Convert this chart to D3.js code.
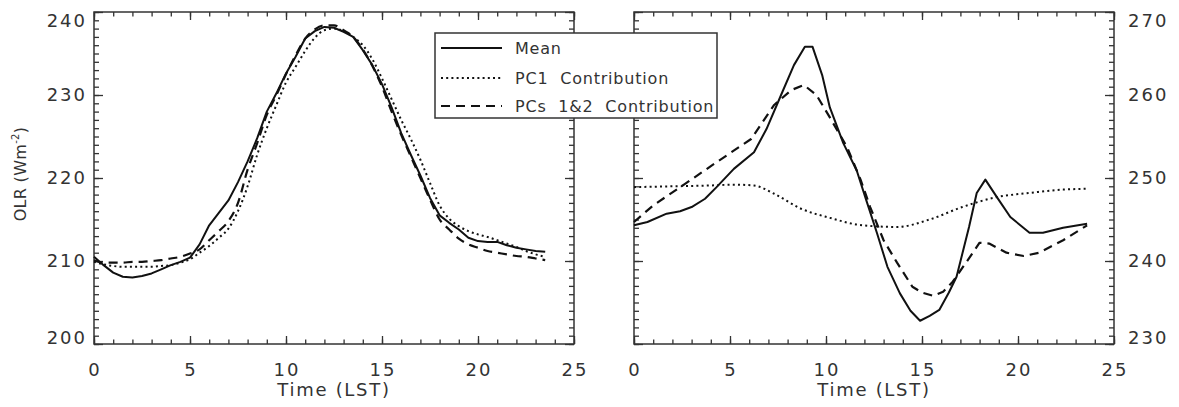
<!DOCTYPE html>
<html>
<head>
<meta charset="utf-8">
<script src="https://cdn.jsdelivr.net/npm/d3@7"></script>
<style>
  html, body { margin: 0; padding: 0; background: #fff; }
  svg { display: block; }
  text { font-family: "DejaVu Sans", sans-serif; fill: #333; }
</style>
</head>
<body>
<svg id="chart" width="1179" height="407"></svg>
<script>
// ---- Data ----------------------------------------------------------------
// Left panel: mean diurnal OLR cycle and its reconstructions (half-hourly, LST)
const leftTime = d3.range(0, 24, 0.5);
const leftMean = [
  210.5, 209.5, 208.6, 208.1, 208.0, 208.2, 208.5, 209.0, 209.5, 209.9,
  210.4, 212.0, 214.3, 215.8, 217.3, 219.5, 222.0, 224.8, 228.0, 230.2,
  232.6, 234.6, 236.8, 237.7, 238.2, 238.1, 237.6, 237.0, 235.4, 233.6,
  231.3, 228.5, 225.4, 222.8, 220.3, 217.6, 215.5, 214.6, 213.8, 212.8,
  212.4, 212.3, 212.3, 211.9, 211.6, 211.4, 211.2, 211.1
];
const leftPC1 = [
  209.9, 209.6, 209.4, 209.3, 209.3, 209.3, 209.3, 209.4, 209.5, 209.8,
  210.2, 211.0, 211.8, 212.8, 213.9, 216.0, 219.0, 222.8, 226.0, 228.8,
  231.5, 233.4, 235.3, 236.9, 237.8, 238.0, 237.7, 237.0, 236.0, 234.3,
  232.0, 229.5, 227.0, 224.7, 222.2, 219.4, 216.7, 215.1, 214.2, 213.6,
  213.2, 212.9, 212.5, 212.1, 211.7, 211.2, 210.8, 210.5
];
const leftPC12 = [
  210.1, 209.8, 209.8, 209.8, 209.9, 209.9, 210.0, 210.1, 210.3, 210.5,
  210.9, 211.4, 212.5, 213.6, 214.8, 217.0, 221.0, 224.2, 227.6, 230.0,
  232.5, 234.8, 236.8, 237.9, 238.4, 238.4, 237.8, 237.0, 235.5, 233.5,
  231.0, 228.0, 225.2, 222.6, 220.0, 217.4, 215.0, 213.8, 212.7, 212.0,
  211.6, 211.2, 211.0, 210.8, 210.6, 210.5, 210.3, 210.1
];

// Right panel
const rightMeanTime = [0, 0.7, 1.7, 2.4, 3.0, 3.7, 4.3, 5.2, 6.25, 6.9, 7.66, 8.33, 8.9, 9.3,
  9.8, 10.2, 10.9, 11.6, 12.1, 12.65, 13.2, 13.85, 14.4, 14.9, 15.4, 15.9, 16.4, 16.8,
  17.45, 17.85, 18.3, 18.9, 19.6, 20.6, 21.3, 22.35, 23.6];
const rightMean = [244.3, 244.7, 245.7, 246.0, 246.5, 247.5, 248.9, 251.1, 253.1, 255.9, 260.0, 263.6, 265.8, 265.8,
  262.4, 258.5, 254.2, 250.9, 247.3, 243.4, 239.3, 236.1, 234.0, 232.8, 233.4, 234.1, 236.2, 238.1,
  244.1, 248.2, 249.8, 247.7, 245.3, 243.4, 243.4, 244.0, 244.5];

const rightPC12Time = [0, 1.0, 2.6, 4.3, 6.1, 7.3, 8.2, 8.85, 9.5, 10.2, 11.1, 11.8, 12.3, 13.0,
  13.7, 14.5, 15.0, 15.6, 16.1, 16.6, 17.5, 18.0, 18.5, 19.4, 20.3, 21.1, 22.35, 23.6];
const rightPC12 = [244.7, 246.7, 249.2, 251.9, 254.7, 258.8, 260.6, 261.2, 260.0, 257.3, 253.7, 249.8, 246.5, 242.5,
  239.8, 236.9, 236.2, 235.8, 236.3, 237.5, 240.5, 242.2, 242.1, 241.0, 240.6, 241.0, 242.5, 244.3];

const rightPC1Time = [0, 2, 4, 5.2, 6.25, 7.3, 8.7, 10.2, 11.9, 13.7, 15.4, 17.1, 18.9, 20.6, 22.35, 23.6];
const rightPC1 = [248.9, 249.0, 249.1, 249.2, 249.1, 248.1, 246.3, 245.2, 244.3, 244.1, 245.0, 246.5, 247.7, 248.2, 248.6, 248.7];

// Axis ticks
const xMajorTicks = [0, 5, 10, 15, 20, 25];
const leftYTicks = [200, 210, 220, 230, 240];
const rightYTicks = [230, 240, 250, 260, 270];

const legendLabels = ["Mean", "PC1  Contribution", "PCs  1&2  Contribution"];

// ---- Styles --------------------------------------------------------------
const ink = "#333";
const lineInk = "#111";
const styles = {
  mean:  { dash: null,      width: 2.0 },
  pc1:   { dash: "2,3.2",   width: 2.0 },
  pc12:  { dash: "9,6",     width: 2.2 }
};
const tickFont = 18, tickSpacing = 2;

const svg = d3.select("#chart");

function drawPanel(opts) {
  const { left, right, top, bottom, yDomain, yTicks, labelSide, series } = opts;
  const x = d3.scaleLinear().domain([0, 25]).range([left, right]);
  const y = d3.scaleLinear().domain(yDomain).range([bottom, top]);
  const g = svg.append("g");

  const minorX = d3.range(0, 25.001, 1);
  const minorY = d3.range(yDomain[0], yDomain[1] + 0.001, 1);

  const tickStyle = sel => {
    sel.select(".domain").remove();
    sel.selectAll("line").attr("stroke", ink).attr("stroke-width", 1.3);
    sel.selectAll("text").remove();
  };

  // inward ticks on all four sides
  g.append("g").attr("transform", `translate(0,${bottom})`)
    .call(d3.axisBottom(x).tickValues(minorX).tickSize(-4.5)).call(tickStyle);
  g.append("g").attr("transform", `translate(0,${bottom})`)
    .call(d3.axisBottom(x).tickValues(xMajorTicks).tickSize(-8)).call(tickStyle);
  g.append("g").attr("transform", `translate(0,${top})`)
    .call(d3.axisTop(x).tickValues(minorX).tickSize(-4.5)).call(tickStyle);
  g.append("g").attr("transform", `translate(0,${top})`)
    .call(d3.axisTop(x).tickValues(xMajorTicks).tickSize(-8)).call(tickStyle);
  g.append("g").attr("transform", `translate(${left},0)`)
    .call(d3.axisLeft(y).tickValues(minorY).tickSize(-5)).call(tickStyle);
  g.append("g").attr("transform", `translate(${left},0)`)
    .call(d3.axisLeft(y).tickValues(yTicks).tickSize(-9)).call(tickStyle);
  g.append("g").attr("transform", `translate(${right},0)`)
    .call(d3.axisRight(y).tickValues(minorY).tickSize(-5)).call(tickStyle);
  g.append("g").attr("transform", `translate(${right},0)`)
    .call(d3.axisRight(y).tickValues(yTicks).tickSize(-9)).call(tickStyle);

  // frame
  g.append("rect")
    .attr("x", left).attr("y", top)
    .attr("width", right - left).attr("height", bottom - top)
    .attr("fill", "none").attr("stroke", ink).attr("stroke-width", 1.5);

  // x tick labels
  g.selectAll(".xl").data(xMajorTicks).join("text")
    .attr("x", d => x(d) + tickSpacing / 2).attr("y", 376)
    .attr("text-anchor", "middle")
    .attr("font-size", tickFont).attr("letter-spacing", tickSpacing)
    .text(d => d);

  // y tick labels
  g.selectAll(".yl").data(yTicks).join("text")
    .attr("x", labelSide === "left" ? left - 7 : right + 14)
    .attr("y", d => Math.min(Math.max(y(d), 21), 338))
    .attr("dy", "0.36em")
    .attr("text-anchor", labelSide === "left" ? "end" : "start")
    .attr("font-size", tickFont).attr("letter-spacing", tickSpacing)
    .text(d => d);

  // x title
  g.append("text")
    .attr("x", (left + right) / 2).attr("y", 396)
    .attr("text-anchor", "middle")
    .attr("font-size", tickFont).attr("letter-spacing", 1.7)
    .text("Time (LST)");

  // curves
  series.forEach(s => {
    const pts = s.t.map((t, i) => [t, s.v[i]]);
    const line = d3.line().x(d => x(d[0])).y(d => y(d[1])).curve(s.curve || d3.curveLinear);
    g.append("path")
      .attr("d", line(pts))
      .attr("fill", "none")
      .attr("stroke", lineInk)
      .attr("stroke-width", styles[s.key].width)
      .attr("stroke-dasharray", styles[s.key].dash)
      .attr("stroke-linejoin", "round");
  });
}

drawPanel({
  left: 94, right: 574, top: 12, bottom: 344,
  yDomain: [200, 240], yTicks: leftYTicks, labelSide: "left",
  series: [
    { key: "pc1",  t: leftTime, v: leftPC1,  curve: d3.curveMonotoneX },
    { key: "pc12", t: leftTime, v: leftPC12, curve: d3.curveMonotoneX },
    { key: "mean", t: leftTime, v: leftMean }
  ]
});

drawPanel({
  left: 634, right: 1114, top: 12, bottom: 344,
  yDomain: [230, 270], yTicks: rightYTicks, labelSide: "right",
  series: [
    { key: "pc1",  t: rightPC1Time,  v: rightPC1, curve: d3.curveMonotoneX },
    { key: "pc12", t: rightPC12Time, v: rightPC12 },
    { key: "mean", t: rightMeanTime, v: rightMean }
  ]
});

// y-axis title
svg.append("text")
  .attr("transform", "translate(26,174) rotate(-90)")
  .attr("text-anchor", "middle")
  .attr("font-size", 16).attr("letter-spacing", 0.3)
  .call(t => {
    t.append("tspan").text("OLR (Wm");
    t.append("tspan").attr("font-size", 10).attr("dy", -7).text("-2");
    t.append("tspan").attr("dy", 7).text(")");
  });

// legend
const legend = svg.append("g");
legend.append("rect")
  .attr("x", 435).attr("y", 33).attr("width", 282).attr("height", 85)
  .attr("fill", "#fff").attr("stroke", ink).attr("stroke-width", 1.5);
const legendKeys = ["mean", "pc1", "pc12"];
const legendRows = [48, 78, 106];
legendKeys.forEach((k, i) => {
  legend.append("line")
    .attr("x1", 441).attr("x2", 502)
    .attr("y1", legendRows[i]).attr("y2", legendRows[i])
    .attr("stroke", lineInk).attr("stroke-width", 2)
    .attr("stroke-dasharray", styles[k].dash);
  legend.append("text")
    .attr("x", 515).attr("y", legendRows[i] + 6)
    .attr("font-size", 16).attr("letter-spacing", 0.8)
    .style("white-space", "pre")
    .text(legendLabels[i]);
});
</script>
</body>
</html>
